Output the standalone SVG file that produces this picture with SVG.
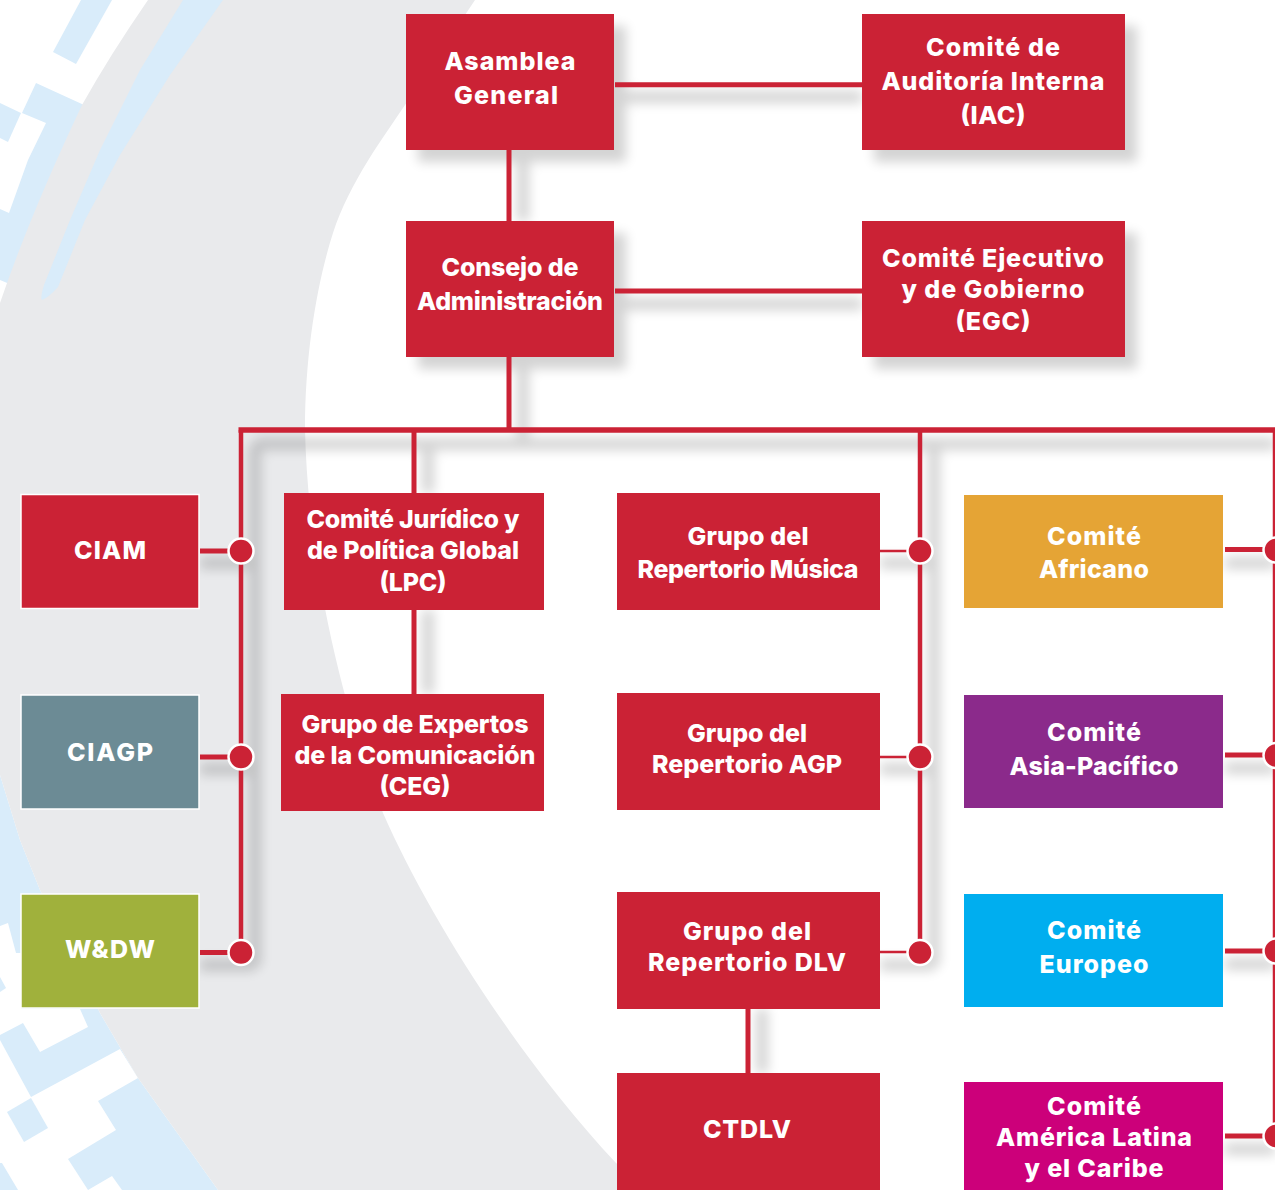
<svg xmlns="http://www.w3.org/2000/svg" width="1275" height="1190" viewBox="0 0 1275 1190">
<defs>
<filter id="blur" x="-20%" y="-20%" width="140%" height="140%"><feGaussianBlur stdDeviation="6"/></filter>
</defs>
<style>
.t{font-family:"Inter","Liberation Sans",sans-serif;font-weight:800;font-size:25px;fill:#fff;text-anchor:middle}
.r{fill:#cb2235}
.l{stroke:#cb2235;fill:none;stroke-width:5}
.s{stroke:#000;fill:none;stroke-width:12}
.c{fill:#cb2235;stroke:#fff;stroke-width:2.5}
.w{stroke:#fff;stroke-width:1.5}
.lb{fill:#d9ecfa}
</style>
<rect width="1275" height="1190" fill="#fff"/>
<g id="background">
<path class="lb" d="M0 775L20 840L40 890L100 1013L138 1078L218 1190L0 1190Z"/>
<path fill="#fff" d="M0 926L8 923L16 953L21 953L21 1009L80 1009L88 1027L40 1052L23 1023L0 1035L0 992L6 988L0 977Z"/>
<path fill="#fff" d="M120 1049L138 1078L98 1101L116 1130L68 1159L88 1190L112 1176L122 1190L18 1190L2 1163L0 1163L0 1040L31 1097Z"/>
<path class="lb" d="M7 1112L31 1098L48 1128L24 1142Z"/>
<path class="lb" d="M81 0L112 0L76 64L53 52Z"/>
<path class="lb" d="M36 83L95 110L60 190L30 260L12 285L0 280L0 209L9 213L28 160L46 123L22 113Z"/>
<path class="lb" d="M0 103L21 113L8 142L0 138Z"/>
<path fill="#e9eaec" d="M148 0L475 0L405 105C385 135 349 183 333 233C318 280 305 350 305 430C308 560 340 700 383 813C430 920 520 1060 616 1163L650 1190L218 1190L138 1078L100 1013L40 890L20 840L0 775L0 303Q30 215 82 105Q110 55 148 0Z"/>
<path class="lb" d="M183 0L223 0L170 75L120 155L85 220L58 287Q48 298 42 300Q40 298 44 285L70 220L100 150L140 70Z"/>
</g>
<g id="shadows" filter="url(#blur)" opacity="0.17">
<rect x="418" y="26" width="208" height="136"/>
<rect x="874" y="26" width="263" height="136"/>
<rect x="418" y="233" width="208" height="136"/>
<rect x="874" y="233" width="263" height="136"/>
<path class="s" d="M615 97H862M615 304H862M523 150V221M523 357V444M255 444H1275M255 444V966M428 444V493M428 610V694M934 444V966M762 1009V1073M200 563H255M200 769H255M200 965H255M880 563H934M880 769H934M880 965H934M1225 563H1275M1225 768H1275M1225 964H1275M1225 1149H1275"/>
</g>
<g id="connectors">
<path class="l" d="M615 84.700H862M615 291H862M509 150V221M509 357V430M748 1009V1073M414 430V493M414 610V694"/>
<path class="l" style="stroke-width:5.500" d="M238.500 430H1275"/>
<path class="l" style="stroke-width:4.500" d="M241 430V952M920 430V952"/>
<path class="l" style="stroke-width:2.500" d="M1274 430V1136M880 551H920M880 757H920M880 952H920"/>
<path class="l" d="M200 551H241M200 757H241M200 952.500H241M1225 549.500H1275M1225 755H1275M1225 951H1275M1225 1136H1275"/>
</g>
<g id="junctions">
<circle class="c" cx="241" cy="551" r="12.500"/><circle class="c" cx="241" cy="757" r="12.500"/><circle class="c" cx="241" cy="952.500" r="12.500"/>
<circle class="c" cx="920" cy="551" r="12.500"/><circle class="c" cx="920" cy="757" r="12.500"/><circle class="c" cx="920" cy="952.500" r="12.500"/>
<circle class="c" cx="1276" cy="550" r="12.500"/><circle class="c" cx="1276" cy="755.500" r="12.500"/><circle class="c" cx="1276" cy="951" r="12.500"/><circle class="c" cx="1276" cy="1136" r="12.500"/>
</g>
<g id="asamblea"><rect class="r" x="406" y="14" width="208" height="136"/><text class="t" x="510" y="70" textLength="131">Asamblea</text><text class="t" x="506" y="104" textLength="104">General</text></g>
<g id="iac"><rect class="r" x="862" y="14" width="263" height="136"/><text class="t" x="993" y="56" textLength="134">Comité de</text><text class="t" x="993" y="90" textLength="223">Auditoría Interna</text><text class="t" x="993" y="124" textLength="65">(IAC)</text></g>
<g id="consejo"><rect class="r" x="406" y="221" width="208" height="136"/><text class="t" x="510" y="276" textLength="137">Consejo de</text><text class="t" x="510" y="310" textLength="186">Administración</text></g>
<g id="egc"><rect class="r" x="862" y="221" width="263" height="136"/><text class="t" x="993" y="267" textLength="222">Comité Ejecutivo</text><text class="t" x="993" y="298" textLength="183">y de Gobierno</text><text class="t" x="993" y="330" textLength="75">(EGC)</text></g>
<g id="ciam"><rect class="r w" x="21" y="494.500" width="178" height="114"/><text class="t" x="110" y="559" textLength="72">CIAM</text></g>
<g id="ciagp"><rect class="w" fill="#6c8b95" x="21" y="695" width="178" height="114"/><text class="t" x="110" y="761" textLength="86">CIAGP</text></g>
<g id="wdw"><rect class="w" fill="#a0b13c" x="21" y="894" width="178" height="114"/><text class="t" x="110" y="958" textLength="90">W&amp;DW</text></g>
<g id="lpc"><rect class="r" x="284" y="493" width="260" height="117"/><text class="t" x="413" y="528" textLength="213">Comité Jurídico y</text><text class="t" x="413" y="559" textLength="212">de Política Global</text><text class="t" x="413" y="591" textLength="67">(LPC)</text></g>
<g id="ceg"><rect class="r" x="281" y="694" width="263" height="117"/><text class="t" x="415" y="733" textLength="227">Grupo de Expertos</text><text class="t" x="415" y="764" textLength="241">de la Comunicación</text><text class="t" x="415" y="795" textLength="71">(CEG)</text></g>
<g id="musica"><rect class="r" x="617" y="493" width="263" height="117"/><text class="t" x="748" y="545" textLength="121">Grupo del</text><text class="t" x="748" y="578" textLength="221">Repertorio Música</text></g>
<g id="agp"><rect class="r" x="617" y="693" width="263" height="117"/><text class="t" x="747" y="742" textLength="120">Grupo del</text><text class="t" x="747" y="773" textLength="190">Repertorio AGP</text></g>
<g id="dlv"><rect class="r" x="617" y="892" width="263" height="117"/><text class="t" x="747" y="940" textLength="128">Grupo del</text><text class="t" x="747" y="971" textLength="198">Repertorio DLV</text></g>
<g id="ctdlv"><rect class="r" x="617" y="1073" width="263" height="117"/><text class="t" x="747" y="1138" textLength="88">CTDLV</text></g>
<g id="africano"><rect fill="#e5a435" x="964" y="495" width="259" height="113"/><text class="t" x="1094" y="545" textLength="94">Comité</text><text class="t" x="1094" y="578" textLength="110">Africano</text></g>
<g id="asia"><rect fill="#8b2a8b" x="964" y="695" width="259" height="113"/><text class="t" x="1094" y="741" textLength="94">Comité</text><text class="t" x="1094" y="775" textLength="169">Asia-Pacífico</text></g>
<g id="europeo"><rect fill="#00aeef" x="964" y="894" width="259" height="113"/><text class="t" x="1094" y="939" textLength="94">Comité</text><text class="t" x="1094" y="973" textLength="109">Europeo</text></g>
<g id="lac"><rect fill="#cc007a" x="964" y="1082" width="259" height="108"/><text class="t" x="1094" y="1115" textLength="94">Comité</text><text class="t" x="1094" y="1146" textLength="196">América Latina</text><text class="t" x="1094" y="1177" textLength="139">y el Caribe</text></g>
</svg>
